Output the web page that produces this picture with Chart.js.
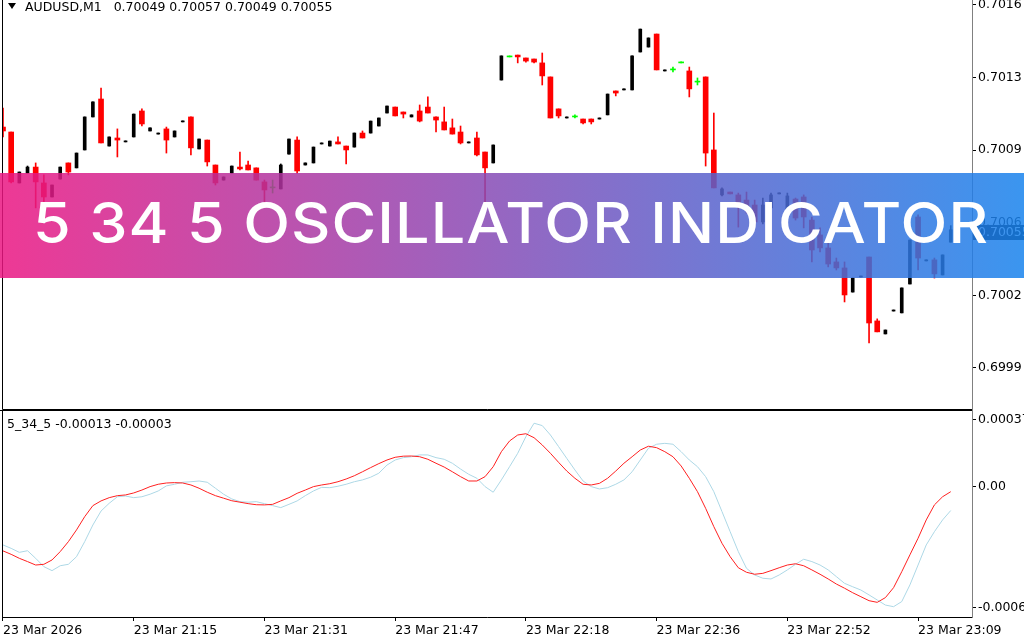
<!DOCTYPE html>
<html>
<head>
<meta charset="utf-8">
<script src="https://cdn.jsdelivr.net/npm/chart.js@4.4.1/dist/chart.umd.min.js"></script>
<style>
  html, body { margin:0; padding:0; background:#fff; }
  #wrap { position:relative; width:1024px; height:640px; overflow:hidden; background:#fff; }
  #cTop { position:absolute; left:0; top:0; }
  #cBot { position:absolute; left:0; top:410px; }
  .txt { position:absolute; font-family:"DejaVu Sans", sans-serif; font-size:12.5px; line-height:14px; color:#000; white-space:pre; }
  #tri { position:absolute; left:8px; top:3px; width:0; height:0; border-left:4px solid transparent; border-right:4px solid transparent; border-top:6px solid #000; }
  #banner { position:absolute; left:0; top:173px; width:1024px; height:105px;
    background:linear-gradient(90deg, rgba(235,22,130,0.85) 0%, rgba(24,131,237,0.85) 100%); }
  #btext { position:absolute; left:33px; top:195px; font-family:Inter, "Open Sans", sans-serif; font-weight:500; font-size:56px; line-height:56px; color:#fff; white-space:nowrap; transform-origin:0 0; }
</style>
</head>
<body>
<div id="wrap">
  <canvas id="cTop" width="1024" height="410"></canvas>
  <canvas id="cBot" width="1024" height="230"></canvas>
  <div id="tri"></div>
  <div id="title" class="txt" style="left:25px;top:0px;"></div>
  <div id="oscTitle" class="txt" style="left:7px;top:417px;"></div>
  <div id="banner"></div>
  <div id="btext"></div>
</div>
<script>
// ---------- DATA ----------
const symbolName = 'AUDUSD,M1';
const lastOHLC = ['0.70049', '0.70057', '0.70049', '0.70055'];
const indicatorName = '5_34_5';
const indicatorValues = ['-0.00013', '-0.00003'];
const currentPrice = '0.70055';
const bannerText = '5 34 5 OSCILLATOR INDICATOR';

const priceTicks = [0.70164, 0.701288, 0.700936, 0.700584, 0.700232, 0.69988];
const priceTickLabels = ['0.7016', '0.7013', '0.7009', '0.7006', '0.7002', '0.6999'];
const oscTicks = [0.00037, 0, -0.000668];
const oscTickLabels = ['0.00037', '0.00', '-0.0006'];
const timeTickIndex = [0, 16, 32, 48, 64, 80, 96, 112];
const timeLabels = ['23 Mar 2026', '23 Mar 21:15', '23 Mar 21:31', '23 Mar 21:47', '23 Mar 22:18', '23 Mar 22:36', '23 Mar 22:52', '23 Mar 23:09'];

const opens = [
0.701048,0.701024,0.700777,0.700825,0.700854,0.700777,0.700709,0.700796,0.700874,0.70085,
0.700937,0.701097,0.701184,0.700956,0.700995,0.700976,0.7010,0.701126,0.701029,0.701014,
0.701039,0.7010,0.701073,0.701097,0.700942,0.700985,0.700864,0.700791,0.700825,0.700854,
0.700864,0.70085,0.700782,0.700753,0.700748,0.700917,0.700985,0.700864,0.700874,0.700966,
0.700956,0.700976,0.700956,0.700951,0.701019,0.701019,0.701053,0.701116,0.701145,0.701121,
0.701097,0.701126,0.701145,0.701097,0.701073,0.701044,0.701024,0.700971,0.700995,0.700927,
0.700874,0.701276,0.701388,0.701397,0.701383,0.701378,0.701359,0.701291,0.701136,0.701092,
0.701097,0.701087,0.701087,0.701087,0.701107,0.701223,0.701228,0.701228,0.701412,0.701436,
0.701499,0.70132,0.701325,0.701359,0.70132,0.701266,0.701291,0.700937,0.700719,0.700733,
0.700719,0.700694,0.70067,0.700588,0.700656,0.700724,0.700622,0.700699,0.700709,0.700597,
0.700525,0.700462,0.700394,0.700365,0.700248,0.700321,0.700418,0.700108,0.700045,0.700156,
0.700147,0.700287,0.700612,0.700399,0.700404,0.700331,0.70049];
const highs = [
0.70114,0.701024,0.70083,0.700859,0.700874,0.700816,0.700767,0.700854,0.700874,0.700922,
0.701097,0.70117,0.701237,0.7010,0.701039,0.70098,0.701111,0.701136,0.701044,0.701019,
0.701048,0.701029,0.701077,0.701097,0.70099,0.700985,0.700864,0.700806,0.700859,0.700927,
0.700883,0.70085,0.700791,0.700791,0.700869,0.70099,0.7010,0.700874,0.700951,0.700971,
0.70098,0.7010,0.700956,0.701019,0.701029,0.701077,0.701092,0.70115,0.701145,0.701121,
0.701107,0.701155,0.701194,0.701097,0.701145,0.701087,0.701053,0.700976,0.701024,0.700927,
0.700961,0.701393,0.701388,0.701397,0.701383,0.701378,0.701407,0.701291,0.701136,0.701097,
0.701107,0.701087,0.701087,0.701092,0.701208,0.701223,0.701233,0.701393,0.701523,0.70148,
0.701499,0.701325,0.701339,0.701359,0.701339,0.701286,0.701291,0.701116,0.700753,0.700733,
0.700728,0.700733,0.700694,0.700704,0.700728,0.700728,0.700728,0.700704,0.700719,0.700612,
0.700559,0.700491,0.700413,0.700394,0.700316,0.700326,0.700418,0.700118,0.700064,0.700161,
0.700268,0.7005,0.700622,0.700404,0.700413,0.700428,0.70057];
const lows = [
0.7010,0.700777,0.700777,0.700825,0.700656,0.700685,0.700709,0.700796,0.700816,0.70085,
0.700937,0.701097,0.700971,0.700956,0.700903,0.700976,0.7010,0.701053,0.701029,0.701014,
0.700922,0.7010,0.701073,0.700913,0.700942,0.700859,0.700767,0.700791,0.700825,0.70084,
0.70084,0.700791,0.700685,0.700728,0.700748,0.700917,0.700825,0.700864,0.700874,0.700966,
0.700956,0.700966,0.700869,0.700951,0.700995,0.701019,0.701053,0.701116,0.701102,0.701092,
0.701097,0.701073,0.701116,0.701024,0.701034,0.701014,0.700966,0.700971,0.700908,0.700685,
0.700874,0.701276,0.701388,0.701359,0.701363,0.701359,0.701252,0.701092,0.701092,0.701092,
0.701092,0.701063,0.701063,0.701087,0.701107,0.701199,0.701228,0.701228,0.701412,0.701436,
0.701325,0.70132,0.701315,0.701359,0.701194,0.701252,0.700859,0.700753,0.700714,0.700724,
0.700563,0.700631,0.700573,0.700578,0.700646,0.700724,0.700612,0.700597,0.700559,0.700394,
0.700442,0.70037,0.700355,0.7002,0.700248,0.700321,0.700001,0.700055,0.700045,0.700156,
0.700147,0.700287,0.700355,0.700399,0.700316,0.700331,0.70049];
const closes = [
0.701029,0.700782,0.70083,0.700854,0.700782,0.700709,0.700767,0.700854,0.70083,0.700922,
0.701097,0.70117,0.700971,0.7010,0.700985,0.70098,0.701111,0.701063,0.701044,0.701019,
0.700985,0.701029,0.701077,0.700947,0.70099,0.700879,0.700777,0.700806,0.700859,0.700845,
0.70084,0.700791,0.700743,0.700753,0.700864,0.70099,0.700835,0.700874,0.700951,0.700971,
0.70098,0.700966,0.700937,0.701019,0.700995,0.701077,0.701092,0.70115,0.701102,0.701111,
0.701107,0.701077,0.701116,0.701082,0.701034,0.701014,0.700971,0.700976,0.700913,0.70085,
0.700961,0.701393,0.701388,0.701388,0.701368,0.701363,0.701296,0.701092,0.701102,0.701097,
0.701097,0.701068,0.701073,0.701092,0.701208,0.701213,0.701233,0.701393,0.701523,0.70148,
0.701325,0.701325,0.701325,0.701359,0.701233,0.701266,0.700922,0.700753,0.700748,0.700724,
0.70067,0.700646,0.700588,0.70067,0.700719,0.700728,0.700714,0.700607,0.700612,0.700452,
0.700462,0.700384,0.700365,0.700234,0.700316,0.700326,0.700098,0.700055,0.700064,0.700161,
0.700268,0.7005,0.700413,0.700404,0.700336,0.700428,0.70055];

const oscBlue = [
-32.0e-5,-33.9e-5,-36.1e-5,-35.2e-5,-39.4e-5,-44.0e-5,-46.2e-5,-43.5e-5,-42.7e-5,-38.5e-5,
-30.2e-5,-21.0e-5,-13.3e-5,-9.0e-5,-5.4e-5,-5.0e-5,-5.9e-5,-5.4e-5,-4.0e-5,-2.2e-5,
0.6e-5,1.5e-5,2.6e-5,2.9e-5,3.3e-5,2.6e-5,-0.7e-5,-4.0e-5,-6.6e-5,-8.1e-5,
-8.4e-5,-8.1e-5,-9.2e-5,-10.3e-5,-11.4e-5,-9.6e-5,-7.7e-5,-4.8e-5,-2.2e-5,-0.2e-5,
-0.4e-5,0.4e-5,1.5e-5,2.9e-5,3.9e-5,5.4e-5,7.6e-5,12.1e-5,14.9e-5,16.2e-5,
16.7e-5,17.7e-5,17.7e-5,16.2e-5,15.3e-5,13.1e-5,9.9e-5,7.0e-5,4.8e-5,0.2e-5,
-2.9e-5,3.9e-5,11.2e-5,18.6e-5,27.8e-5,35.2e-5,33.9e-5,28.7e-5,22.3e-5,15.8e-5,
9.4e-5,3.3e-5,0.2e-5,-1.1e-5,-0.4e-5,1.5e-5,3.9e-5,8.4e-5,14.9e-5,21.4e-5,
23.6e-5,24.1e-5,23.6e-5,19.5e-5,14.9e-5,11.2e-5,5.7e-5,-2.6e-5,-13.6e-5,-24.7e-5,
-35.7e-5,-44.9e-5,-48.6e-5,-50.4e-5,-50.8e-5,-48.6e-5,-45.8e-5,-42.7e-5,-39.9e-5,-41.2e-5,
-43.1e-5,-45.8e-5,-49.5e-5,-53.2e-5,-55.1e-5,-56.9e-5,-59.6e-5,-62.4e-5,-65.2e-5,-66.1e-5,
-63.3e-5,-54.1e-5,-43.1e-5,-32.0e-5,-24.7e-5,-18.2e-5,-13.0e-5];
const oscRed = [
-35.3e-5,-37.2e-5,-39.4e-5,-41.2e-5,-43.1e-5,-42.7e-5,-40.3e-5,-35.7e-5,-30.2e-5,-23.7e-5,
-16.4e-5,-10.3e-5,-7.7e-5,-5.9e-5,-4.8e-5,-4.4e-5,-3.3e-5,-1.7e-5,0.2e-5,1.5e-5,
2.2e-5,2.4e-5,2.2e-5,1.1e-5,-0.7e-5,-2.9e-5,-4.8e-5,-6.2e-5,-7.6e-5,-8.4e-5,
-9.2e-5,-9.8e-5,-9.9e-5,-9.6e-5,-7.7e-5,-5.9e-5,-3.5e-5,-1.7e-5,0.2e-5,1.1e-5,
1.8e-5,2.9e-5,4.4e-5,6.2e-5,8.4e-5,10.7e-5,12.9e-5,14.9e-5,16.4e-5,17.0e-5,
17.1e-5,16.7e-5,15.3e-5,13.1e-5,11.0e-5,8.4e-5,5.7e-5,3.3e-5,3.3e-5,5.7e-5,
11.2e-5,19.5e-5,25.4e-5,28.7e-5,29.4e-5,27.2e-5,23.2e-5,18.6e-5,13.6e-5,8.8e-5,
4.8e-5,1.5e-5,1.1e-5,2.0e-5,4.8e-5,8.8e-5,13.1e-5,16.7e-5,20.4e-5,22.5e-5,
21.7e-5,19.5e-5,16.7e-5,11.6e-5,4.8e-5,-2.6e-5,-11.8e-5,-21.9e-5,-31.1e-5,-38.5e-5,
-44.6e-5,-47.1e-5,-48.2e-5,-47.7e-5,-46.2e-5,-44.6e-5,-43.1e-5,-42.4e-5,-43.5e-5,-45.8e-5,
-48.2e-5,-50.8e-5,-53.6e-5,-55.9e-5,-58.4e-5,-60.6e-5,-62.8e-5,-63.7e-5,-61.1e-5,-55.6e-5,
-46.8e-5,-37.5e-5,-28.3e-5,-18.2e-5,-9.9e-5,-5.4e-5,-2.6e-5];

// ---------- scale ranges / styles ----------
const xMin = -0.122, xMax = 118.6;
const priceMin = 0.699681, priceMax = 0.701664;
const oscMin = -0.000718, oscMax = 0.000414;
const BULL = '#000000', BEAR = '#ff0000', DOJI = '#00ff00';
const FONT = { family: 'DejaVu Sans', size: 12.5 };

Chart.defaults.font.family = 'DejaVu Sans';
Chart.defaults.color = '#000';

// ---------- texts ----------
document.getElementById('title').textContent = symbolName + '   ' + lastOHLC.join(' ');
document.getElementById('oscTitle').textContent = indicatorName + ' ' + indicatorValues.join(' ');
const bt = document.getElementById('btext');
bt.textContent = bannerText;
bt.style.letterSpacing = '1px';
const w0 = bt.getBoundingClientRect().width - 1;
bt.style.transform = 'scaleX(' + (955 / w0) + ')';

// ---------- candles ----------
const idx = opens.map((_, i) => i);
const kind = idx.map(i => closes[i] > opens[i] ? 'bull' : (closes[i] < opens[i] ? 'bear' : 'doji'));
const bodyData = k => idx.filter(i => kind[i] === k).map(i => ({ x: i, y: [opens[i], closes[i]] }));
const wickColors = idx.map(i => kind[i] === 'bull' ? BULL : (kind[i] === 'bear' ? BEAR : DOJI));

const frameA = {
  id: 'frameA',
  afterDraw(chart) {
    const { ctx, chartArea: a, scales: { y } } = chart;
    ctx.save();
    const py = Math.round(y.getPixelForValue(parseFloat(currentPrice))) + 2;
    ctx.fillStyle = '#000';
    ctx.fillRect(a.right + 1, py - 7, 1024 - a.right - 1, 15);
    ctx.fillStyle = '#fff';
    ctx.font = '12.5px "DejaVu Sans"';
    ctx.textBaseline = 'middle';
    ctx.fillText(currentPrice, a.right + 6, py + 0.5);
    ctx.strokeStyle = '#000';
    ctx.lineWidth = 1;
    ctx.beginPath();
    ctx.moveTo(2.5, 0); ctx.lineTo(2.5, a.bottom + 0.5); ctx.lineTo(a.right, a.bottom + 0.5);
    ctx.stroke();
    ctx.strokeStyle = '#808080';
    ctx.beginPath();
    ctx.moveTo(a.right + 0.5, 0); ctx.lineTo(a.right + 0.5, a.bottom + 1);
    ctx.stroke();
    ctx.restore();
  }
};

new Chart(document.getElementById('cTop'), {
  type: 'bar',
  data: {
    datasets: [
      { data: bodyData('bull'), backgroundColor: BULL, barThickness: 3, minBarLength: 1, grouped: false, order: 1, borderWidth: 0 },
      { data: bodyData('bear'), backgroundColor: BEAR, barThickness: 5, minBarLength: 1, grouped: false, order: 1, borderWidth: 0 },
      { data: bodyData('doji'), backgroundColor: DOJI, barThickness: 5, minBarLength: 1, grouped: false, order: 1, borderWidth: 0 },
      { data: idx.map(i => ({ x: i, y: [lows[i], highs[i]] })), backgroundColor: wickColors, barThickness: 1, minBarLength: 1, grouped: false, order: 2, borderWidth: 0 }
    ]
  },
  options: {
    responsive: false, animation: false,
    layout: { padding: { left: 2, top: 0, right: 0, bottom: 1 } },
    plugins: { legend: { display: false }, tooltip: { enabled: false } },
    scales: {
      x: { type: 'linear', min: xMin, max: xMax, display: false, offset: false },
      y: {
        type: 'linear', position: 'right', min: priceMin, max: priceMax,
        afterFit(s) { s.width = 52; s.paddingTop = 0; s.paddingBottom = 0; },
        afterBuildTicks(s) { s.ticks = priceTicks.map(v => ({ value: v })); },
        ticks: { callback: (v, i) => priceTickLabels[i], padding: 2, color: '#000', font: FONT, autoSkip: false },
        grid: { drawOnChartArea: false, drawTicks: true, tickLength: 4, color: '#000' },
        border: { display: false }
      }
    }
  },
  plugins: [frameA]
});

// ---------- oscillator ----------
const frameB = {
  id: 'frameB',
  afterDraw(chart) {
    const { ctx, chartArea: a } = chart;
    ctx.save();
    ctx.lineWidth = 1;
    ctx.strokeStyle = '#000';
    ctx.beginPath();
    ctx.moveTo(0, 0.5); ctx.lineTo(a.right, 0.5);
    ctx.moveTo(2.5, 0); ctx.lineTo(2.5, a.bottom + 0.5); ctx.lineTo(a.right, a.bottom + 0.5);
    ctx.stroke();
    ctx.strokeStyle = '#808080';
    ctx.beginPath();
    ctx.moveTo(a.right + 0.5, 0); ctx.lineTo(a.right + 0.5, a.bottom + 1);
    ctx.stroke();
    ctx.restore();
  }
};

new Chart(document.getElementById('cBot'), {
  type: 'line',
  data: {
    datasets: [
      { data: idx.map(i => ({ x: i, y: oscRed[i] })), borderColor: '#ff2020', borderWidth: 1, pointRadius: 0, tension: 0, fill: false },
      { data: idx.map(i => ({ x: i, y: oscBlue[i] })), borderColor: '#add8e6', borderWidth: 1, pointRadius: 0, tension: 0, fill: false }
    ]
  },
  options: {
    responsive: false, animation: false,
    layout: { padding: { left: 2, top: 2, right: 0, bottom: 0 } },
    plugins: { legend: { display: false }, tooltip: { enabled: false } },
    scales: {
      x: {
        type: 'linear', min: xMin, max: xMax, position: 'bottom', offset: false,
        afterFit(s) { s.height = 23; s.paddingLeft = 0; s.paddingRight = 0; },
        afterBuildTicks(s) { s.ticks = timeTickIndex.map(v => ({ value: v })); },
        ticks: { callback: (v, i) => timeLabels[i], align: 'start', autoSkip: false, maxRotation: 0, minRotation: 0, padding: 2, color: '#000', font: FONT },
        grid: { drawOnChartArea: false, drawTicks: true, tickLength: 4, color: '#000' },
        border: { display: false }
      },
      y: {
        type: 'linear', position: 'right', min: oscMin, max: oscMax,
        afterFit(s) { s.width = 52; s.paddingTop = 0; s.paddingBottom = 0; },
        afterBuildTicks(s) { s.ticks = oscTicks.map(v => ({ value: v })); },
        ticks: { callback: (v, i) => oscTickLabels[i], padding: 2, color: '#000', font: FONT, autoSkip: false },
        grid: { drawOnChartArea: false, drawTicks: true, tickLength: 4, color: '#000' },
        border: { display: false }
      }
    }
  },
  plugins: [frameB]
});
</script>
</body>
</html>
